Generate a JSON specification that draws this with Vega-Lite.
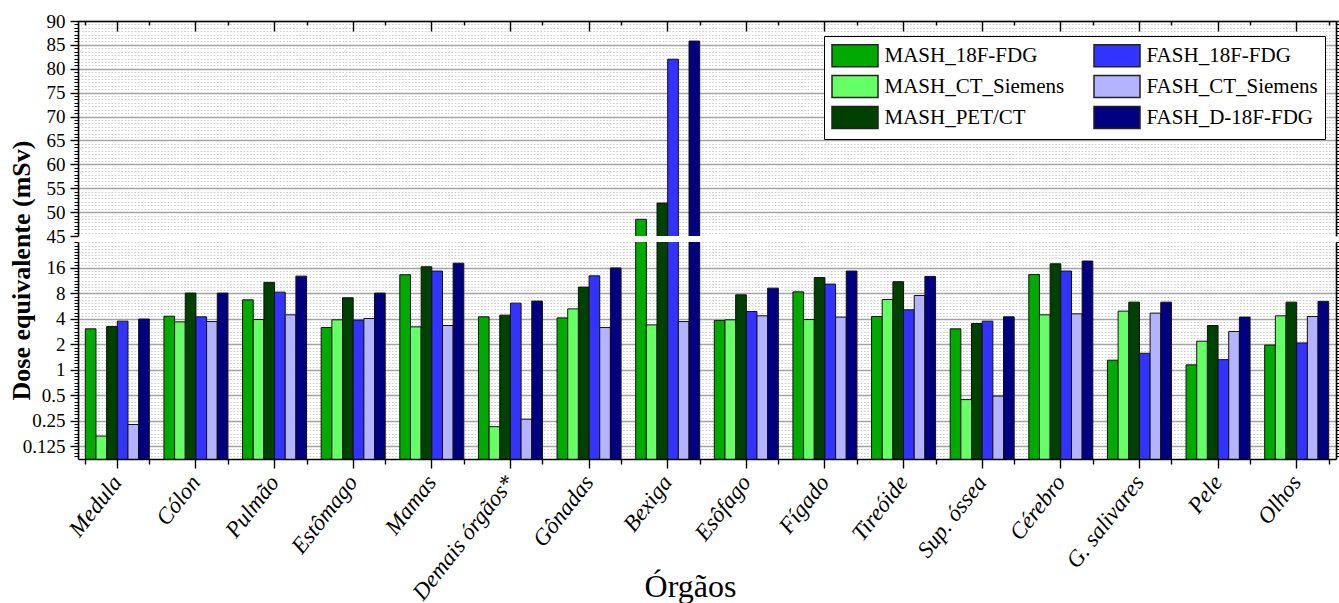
{
  "$schema": "https://vega.github.io/schema/vega-lite/v6.json",
  "background": "white",
  "padding": {"left": 7, "top": 12, "right": 0, "bottom": 0},
  "bounds": "flush",
  "spacing": 6,
  "resolve": {"scale": {"xOffset": "independent"}},
  "config": {
    "view": {"stroke": null},
    "font": "Liberation Serif",
    "axis": {
      "labelFont": "Liberation Serif",
      "titleFont": "Liberation Serif",
      "labelColor": "black",
      "titleColor": "black",
      "domainColor": "black",
      "tickColor": "black",
      "labelFontSize": 19,
      "domainWidth": 1.6,
      "tickWidth": 1.4,
      "grid": false
    },
    "legend": {
      "orient": "none",
      "legendX": 746,
      "legendY": 15,
      "columns": 2,
      "symbolType": "M-2,-0.96H2V0.96H-2Z",
      "symbolSize": 529,
      "symbolOffset": 11.5,
      "symbolStrokeColor": "#222222",
      "symbolStrokeWidth": 1.5,
      "symbolOpacity": 1,
      "labelFont": "Liberation Serif",
      "labelFontSize": 21,
      "labelColor": "black",
      "labelOffset": 17,
      "labelLimit": 400,
      "rowPadding": 2,
      "columnPadding": 26,
      "padding": 7,
      "strokeColor": "black",
      "fillColor": "white"
    }
  },
  "data": {
    "values": [
      {"organ": "Medula", "series": "MASH_18F-FDG", "value": 3.05},
      {"organ": "Medula", "series": "MASH_CT_Siemens", "value": 0.165},
      {"organ": "Medula", "series": "MASH_PET/CT", "value": 3.25},
      {"organ": "Medula", "series": "FASH_18F-FDG", "value": 3.76},
      {"organ": "Medula", "series": "FASH_CT_Siemens", "value": 0.226},
      {"organ": "Medula", "series": "FASH_D-18F-FDG", "value": 3.98},
      {"organ": "Cólon", "series": "MASH_18F-FDG", "value": 4.3},
      {"organ": "Cólon", "series": "MASH_CT_Siemens", "value": 3.69},
      {"organ": "Cólon", "series": "MASH_PET/CT", "value": 8.07},
      {"organ": "Cólon", "series": "FASH_18F-FDG", "value": 4.23},
      {"organ": "Cólon", "series": "FASH_CT_Siemens", "value": 3.72},
      {"organ": "Cólon", "series": "FASH_D-18F-FDG", "value": 8.07},
      {"organ": "Pulmão", "series": "MASH_18F-FDG", "value": 6.72},
      {"organ": "Pulmão", "series": "MASH_CT_Siemens", "value": 3.93},
      {"organ": "Pulmão", "series": "MASH_PET/CT", "value": 10.8},
      {"organ": "Pulmão", "series": "FASH_18F-FDG", "value": 8.28},
      {"organ": "Pulmão", "series": "FASH_CT_Siemens", "value": 4.47},
      {"organ": "Pulmão", "series": "FASH_D-18F-FDG", "value": 12.8},
      {"organ": "Estômago", "series": "MASH_18F-FDG", "value": 3.16},
      {"organ": "Estômago", "series": "MASH_CT_Siemens", "value": 3.9},
      {"organ": "Estômago", "series": "MASH_PET/CT", "value": 7.1},
      {"organ": "Estômago", "series": "FASH_18F-FDG", "value": 3.87},
      {"organ": "Estômago", "series": "FASH_CT_Siemens", "value": 4.04},
      {"organ": "Estômago", "series": "FASH_D-18F-FDG", "value": 8.07},
      {"organ": "Mamas", "series": "MASH_18F-FDG", "value": 13.3},
      {"organ": "Mamas", "series": "MASH_CT_Siemens", "value": 3.22},
      {"organ": "Mamas", "series": "MASH_PET/CT", "value": 16.5},
      {"organ": "Mamas", "series": "FASH_18F-FDG", "value": 14.7},
      {"organ": "Mamas", "series": "FASH_CT_Siemens", "value": 3.34},
      {"organ": "Mamas", "series": "FASH_D-18F-FDG", "value": 18.2},
      {"organ": "Demais órgãos*", "series": "MASH_18F-FDG", "value": 4.23},
      {"organ": "Demais órgãos*", "series": "MASH_CT_Siemens", "value": 0.213},
      {"organ": "Demais órgãos*", "series": "MASH_PET/CT", "value": 4.43},
      {"organ": "Demais órgãos*", "series": "FASH_18F-FDG", "value": 6.14},
      {"organ": "Demais órgãos*", "series": "FASH_CT_Siemens", "value": 0.261},
      {"organ": "Demais órgãos*", "series": "FASH_D-18F-FDG", "value": 6.49},
      {"organ": "Gônadas", "series": "MASH_18F-FDG", "value": 4.11},
      {"organ": "Gônadas", "series": "MASH_CT_Siemens", "value": 5.25},
      {"organ": "Gônadas", "series": "MASH_PET/CT", "value": 9.5},
      {"organ": "Gônadas", "series": "FASH_18F-FDG", "value": 12.9},
      {"organ": "Gônadas", "series": "FASH_CT_Siemens", "value": 3.16},
      {"organ": "Gônadas", "series": "FASH_D-18F-FDG", "value": 16.0},
      {"organ": "Bexiga", "series": "MASH_18F-FDG", "value": 48.5},
      {"organ": "Bexiga", "series": "MASH_CT_Siemens", "value": 3.4},
      {"organ": "Bexiga", "series": "MASH_PET/CT", "value": 51.9},
      {"organ": "Bexiga", "series": "FASH_18F-FDG", "value": 82.0},
      {"organ": "Bexiga", "series": "FASH_CT_Siemens", "value": 3.72},
      {"organ": "Bexiga", "series": "FASH_D-18F-FDG", "value": 85.8},
      {"organ": "Esôfago", "series": "MASH_18F-FDG", "value": 3.83},
      {"organ": "Esôfago", "series": "MASH_CT_Siemens", "value": 3.9},
      {"organ": "Esôfago", "series": "MASH_PET/CT", "value": 7.7},
      {"organ": "Esôfago", "series": "FASH_18F-FDG", "value": 4.89},
      {"organ": "Esôfago", "series": "FASH_CT_Siemens", "value": 4.35},
      {"organ": "Esôfago", "series": "FASH_D-18F-FDG", "value": 9.23},
      {"organ": "Fígado", "series": "MASH_18F-FDG", "value": 8.35},
      {"organ": "Fígado", "series": "MASH_CT_Siemens", "value": 3.93},
      {"organ": "Fígado", "series": "MASH_PET/CT", "value": 12.3},
      {"organ": "Fígado", "series": "FASH_18F-FDG", "value": 10.3},
      {"organ": "Fígado", "series": "FASH_CT_Siemens", "value": 4.2},
      {"organ": "Fígado", "series": "FASH_D-18F-FDG", "value": 14.7},
      {"organ": "Tireóide", "series": "MASH_18F-FDG", "value": 4.27},
      {"organ": "Tireóide", "series": "MASH_CT_Siemens", "value": 6.77},
      {"organ": "Tireóide", "series": "MASH_PET/CT", "value": 11.0},
      {"organ": "Tireóide", "series": "FASH_18F-FDG", "value": 5.12},
      {"organ": "Tireóide", "series": "FASH_CT_Siemens", "value": 7.56},
      {"organ": "Tireóide", "series": "FASH_D-18F-FDG", "value": 12.7},
      {"organ": "Sup. óssea", "series": "MASH_18F-FDG", "value": 3.05},
      {"organ": "Sup. óssea", "series": "MASH_CT_Siemens", "value": 0.445},
      {"organ": "Sup. óssea", "series": "MASH_PET/CT", "value": 3.53},
      {"organ": "Sup. óssea", "series": "FASH_18F-FDG", "value": 3.76},
      {"organ": "Sup. óssea", "series": "FASH_CT_Siemens", "value": 0.49},
      {"organ": "Sup. óssea", "series": "FASH_D-18F-FDG", "value": 4.23},
      {"organ": "Cérebro", "series": "MASH_18F-FDG", "value": 13.4},
      {"organ": "Cérebro", "series": "MASH_CT_Siemens", "value": 4.47},
      {"organ": "Cérebro", "series": "MASH_PET/CT", "value": 17.9},
      {"organ": "Cérebro", "series": "FASH_18F-FDG", "value": 14.7},
      {"organ": "Cérebro", "series": "FASH_CT_Siemens", "value": 4.59},
      {"organ": "Cérebro", "series": "FASH_D-18F-FDG", "value": 19.3},
      {"organ": "G. salivares", "series": "MASH_18F-FDG", "value": 1.3},
      {"organ": "G. salivares", "series": "MASH_CT_Siemens", "value": 4.94},
      {"organ": "G. salivares", "series": "MASH_PET/CT", "value": 6.31},
      {"organ": "G. salivares", "series": "FASH_18F-FDG", "value": 1.57},
      {"organ": "G. salivares", "series": "FASH_CT_Siemens", "value": 4.68},
      {"organ": "G. salivares", "series": "FASH_D-18F-FDG", "value": 6.31},
      {"organ": "Pele", "series": "MASH_18F-FDG", "value": 1.146},
      {"organ": "Pele", "series": "MASH_CT_Siemens", "value": 2.18},
      {"organ": "Pele", "series": "MASH_PET/CT", "value": 3.34},
      {"organ": "Pele", "series": "FASH_18F-FDG", "value": 1.32},
      {"organ": "Pele", "series": "FASH_CT_Siemens", "value": 2.84},
      {"organ": "Pele", "series": "FASH_D-18F-FDG", "value": 4.2},
      {"organ": "Olhos", "series": "MASH_18F-FDG", "value": 1.96},
      {"organ": "Olhos", "series": "MASH_CT_Siemens", "value": 4.35},
      {"organ": "Olhos", "series": "MASH_PET/CT", "value": 6.31},
      {"organ": "Olhos", "series": "FASH_18F-FDG", "value": 2.08},
      {"organ": "Olhos", "series": "FASH_CT_Siemens", "value": 4.27},
      {"organ": "Olhos", "series": "FASH_D-18F-FDG", "value": 6.44}
    ]
  },
  "vconcat": [
    {
      "width": 1258,
      "height": 215,
      "layer": [
        {
          "data": {"values": []},
          "mark": {"type": "point", "opacity": 0},
          "encoding": {
            "y": {
              "field": "value", "type": "quantitative",
              "axis": {"orient": "left", "grid": true, "gridColor": "#cdcdcd", "gridDash": [1.6, 1.7], "gridWidth": 1,
                       "values": [45.714, 46.429, 47.143, 47.857, 48.571, 49.286, 50, 50.714, 51.429, 52.143, 52.857, 53.571, 54.286, 55,
                                  55.714, 56.429, 57.143, 57.857, 58.571, 59.286, 60, 60.714, 61.429, 62.143, 62.857, 63.571, 64.286, 65,
                                  65.714, 66.429, 67.143, 67.857, 68.571, 69.286, 70, 70.714, 71.429, 72.143, 72.857, 73.571, 74.286, 75,
                                  75.714, 76.429, 77.143, 77.857, 78.571, 79.286, 80, 80.714, 81.429, 82.143, 82.857, 83.571, 84.286, 85,
                                  85.714, 86.429, 87.143, 87.857, 88.571, 89.286],
                       "ticks": true, "tickSize": 4, "tickWidth": 1, "labels": false, "domain": false, "title": null, "zindex": 0}
            }
          }
        },
        {
          "data": {"values": []},
          "mark": {"type": "point", "opacity": 0},
          "encoding": {
            "y": {
              "field": "value", "type": "quantitative",
              "axis": {"orient": "right", "grid": false,
                       "values": [45.714, 46.429, 47.143, 47.857, 48.571, 49.286, 50, 50.714, 51.429, 52.143, 52.857, 53.571, 54.286, 55,
                                  55.714, 56.429, 57.143, 57.857, 58.571, 59.286, 60, 60.714, 61.429, 62.143, 62.857, 63.571, 64.286, 65,
                                  65.714, 66.429, 67.143, 67.857, 68.571, 69.286, 70, 70.714, 71.429, 72.143, 72.857, 73.571, 74.286, 75,
                                  75.714, 76.429, 77.143, 77.857, 78.571, 79.286, 80, 80.714, 81.429, 82.143, 82.857, 83.571, 84.286, 85,
                                  85.714, 86.429, 87.143, 87.857, 88.571, 89.286],
                       "tickSize": 4, "tickWidth": 1, "labels": false, "domain": false, "title": null, "zindex": 0}
            }
          }
        },
        {
          "data": {"values": []},
          "mark": {"type": "point", "opacity": 0},
          "encoding": {
            "y": {"field": "value", "type": "quantitative",
                  "axis": {"orient": "right", "values": [50, 55, 60, 65, 70, 75, 80, 85, 90], "tickSize": 6, "labels": false,
                           "domain": true, "grid": true, "gridColor": "#a3a3a3", "gridWidth": 1.4, "title": null, "zindex": 0}}
          }
        },
        {
          "data": {"values": []},
          "mark": {"type": "point", "opacity": 0},
          "encoding": {
            "x": {"field": "organ", "type": "nominal",
                  "axis": {"orient": "top", "tickBand": "extent", "labels": false, "tickSize": -4, "domain": false, "title": null}}
          }
        },
        {
          "mark": {"type": "bar", "clip": true, "stroke": "#111111", "strokeWidth": 1},
          "encoding": {
            "x": {
              "field": "organ", "type": "nominal",
              "scale": {
                "domain": ["Medula", "Cólon", "Pulmão", "Estômago", "Mamas", "Demais órgãos*", "Gônadas", "Bexiga", "Esôfago", "Fígado", "Tireóide", "Sup. óssea", "Cérebro", "G. salivares", "Pele", "Olhos"],
                "paddingInner": 0.186, "paddingOuter": 0.093
              },
              "axis": {"orient": "top", "labels": false, "tickSize": -10, "domain": true, "title": null, "zindex": 1}
            },
            "xOffset": {
              "field": "series", "type": "nominal",
              "scale": {"domain": ["MASH_18F-FDG", "MASH_CT_Siemens", "MASH_PET/CT", "FASH_18F-FDG", "FASH_CT_Siemens", "FASH_D-18F-FDG"], "paddingInner": 0, "paddingOuter": 0}
            },
            "y": {
              "field": "value", "type": "quantitative",
              "scale": {"domain": [45, 90], "nice": false, "zero": false},
              "axis": {"orient": "left", "values": [45, 50, 55, 60, 65, 70, 75, 80, 85, 90], "tickSize": 8, "labelPadding": 5, "grid": false, "title": null, "zindex": 1}
            },
            "y2": {"datum": 30},
            "color": {
              "field": "series", "type": "nominal",
              "scale": {
                "domain": ["MASH_18F-FDG", "MASH_CT_Siemens", "MASH_PET/CT", "FASH_18F-FDG", "FASH_CT_Siemens", "FASH_D-18F-FDG"],
                "range": ["#00aa00", "#66ff66", "#004000", "#3333ff", "#b3b3ff", "#000080"]
              },
              "legend": {"title": null}
            }
          }
        }
      ],
      "resolve": {"axis": {"x": "independent", "y": "independent"}}
    },
    {
      "width": 1258,
      "height": 217,
      "layer": [
        {
          "data": {"values": []},
          "mark": {"type": "point", "opacity": 0},
          "encoding": {
            "y": {
              "field": "value", "type": "quantitative",
              "axis": {"orient": "left", "grid": true, "gridColor": "#cdcdcd", "gridDash": [1.6, 1.7], "gridWidth": 1,
                       "values": [0.09639, 0.10511, 0.11463,
                                  0.125, 0.13631, 0.14865, 0.1621, 0.17678, 0.19278, 0.21022, 0.22925,
                                  0.25, 0.27263, 0.2973, 0.32421, 0.35355, 0.38555, 0.42045, 0.4585,
                                  0.5, 0.54525, 0.5946, 0.64842, 0.70711, 0.77111, 0.8409, 0.917,
                                  1, 1.09051, 1.18921, 1.29684, 1.41421, 1.54221, 1.68179, 1.83401,
                                  2, 2.18102, 2.37841, 2.59368, 2.82843, 3.08442, 3.36359, 3.66802,
                                  4, 4.36203, 4.75683, 5.18736, 5.65685, 6.16884, 6.72717, 7.33603,
                                  8, 8.72406, 9.51366, 10.3747, 11.3137, 12.3377, 13.4543, 14.6721,
                                  16, 17.4481, 19.0273, 20.7494, 22.6274, 24.6754, 26.9087, 29.3441, 32],
                       "ticks": true, "tickSize": 4, "tickWidth": 1, "labels": false, "domain": false, "title": null, "zindex": 0}
            }
          }
        },
        {
          "data": {"values": []},
          "mark": {"type": "point", "opacity": 0},
          "encoding": {
            "y": {
              "field": "value", "type": "quantitative",
              "axis": {"orient": "right", "grid": false,
                       "values": [0.09639, 0.10511, 0.11463,
                                  0.125, 0.13631, 0.14865, 0.1621, 0.17678, 0.19278, 0.21022, 0.22925,
                                  0.25, 0.27263, 0.2973, 0.32421, 0.35355, 0.38555, 0.42045, 0.4585,
                                  0.5, 0.54525, 0.5946, 0.64842, 0.70711, 0.77111, 0.8409, 0.917,
                                  1, 1.09051, 1.18921, 1.29684, 1.41421, 1.54221, 1.68179, 1.83401,
                                  2, 2.18102, 2.37841, 2.59368, 2.82843, 3.08442, 3.36359, 3.66802,
                                  4, 4.36203, 4.75683, 5.18736, 5.65685, 6.16884, 6.72717, 7.33603,
                                  8, 8.72406, 9.51366, 10.3747, 11.3137, 12.3377, 13.4543, 14.6721,
                                  16, 17.4481, 19.0273, 20.7494, 22.6274, 24.6754, 26.9087, 29.3441, 32],
                       "tickSize": 4, "tickWidth": 1, "labels": false, "domain": false, "title": null, "zindex": 0}
            }
          }
        },
        {
          "data": {"values": []},
          "mark": {"type": "point", "opacity": 0},
          "encoding": {
            "y": {"field": "value", "type": "quantitative",
                  "axis": {"orient": "right", "values": [0.125, 0.25, 0.5, 1, 2, 4, 8, 16], "tickSize": 6, "labels": false,
                           "domain": true, "grid": true, "gridColor": "#a3a3a3", "gridWidth": 1.4, "title": null, "zindex": 0}}
          }
        },
        {
          "data": {"values": []},
          "mark": {"type": "point", "opacity": 0},
          "encoding": {
            "x": {"field": "organ", "type": "nominal",
                  "axis": {"orient": "bottom", "tickBand": "extent", "labels": false, "tickSize": 5, "domain": false, "title": null}}
          }
        },
        {
          "mark": {"type": "bar", "clip": true, "stroke": "#111111", "strokeWidth": 1},
          "encoding": {
            "x": {
              "field": "organ", "type": "nominal",
              "scale": {
                "domain": ["Medula", "Cólon", "Pulmão", "Estômago", "Mamas", "Demais órgãos*", "Gônadas", "Bexiga", "Esôfago", "Fígado", "Tireóide", "Sup. óssea", "Cérebro", "G. salivares", "Pele", "Olhos"],
                "paddingInner": 0.186, "paddingOuter": 0.093
              },
              "axis": {"orient": "bottom", "labelAngle": -52, "labelFontSize": 23, "labelFontStyle": "italic", "labelAlign": "right",
                       "labelBaseline": "middle", "labelPadding": 10, "labelLimit": 400, "tickSize": 9, "domain": true,
                       "title": "Órgãos", "titleFontSize": 32, "titleFontWeight": "normal", "titleX": 612, "titleY": 137,
                       "titleBaseline": "alphabetic", "zindex": 1}
            },
            "xOffset": {
              "field": "series", "type": "nominal",
              "scale": {"domain": ["MASH_18F-FDG", "MASH_CT_Siemens", "MASH_PET/CT", "FASH_18F-FDG", "FASH_CT_Siemens", "FASH_D-18F-FDG"], "paddingInner": 0, "paddingOuter": 0}
            },
            "y": {
              "field": "value", "type": "quantitative",
              "scale": {"type": "log", "base": 2, "domain": [0.0884, 32.4], "nice": false},
              "axis": {"orient": "left", "values": [0.125, 0.25, 0.5, 1, 2, 4, 8, 16], "format": "~g", "tickSize": 8, "labelPadding": 5,
                       "grid": false, "title": "Dose equivalente (mSv)", "titleFontSize": 26, "titleFontWeight": "bold",
                       "titleX": -57, "titleY": 28, "titleBaseline": "middle", "zindex": 1}
            },
            "y2": {"datum": 0.05},
            "color": {
              "field": "series", "type": "nominal",
              "scale": {
                "domain": ["MASH_18F-FDG", "MASH_CT_Siemens", "MASH_PET/CT", "FASH_18F-FDG", "FASH_CT_Siemens", "FASH_D-18F-FDG"],
                "range": ["#00aa00", "#66ff66", "#004000", "#3333ff", "#b3b3ff", "#000080"]
              },
              "legend": {"title": null}
            }
          }
        }
      ],
      "resolve": {"axis": {"x": "independent", "y": "independent"}}
    }
  ]
}
